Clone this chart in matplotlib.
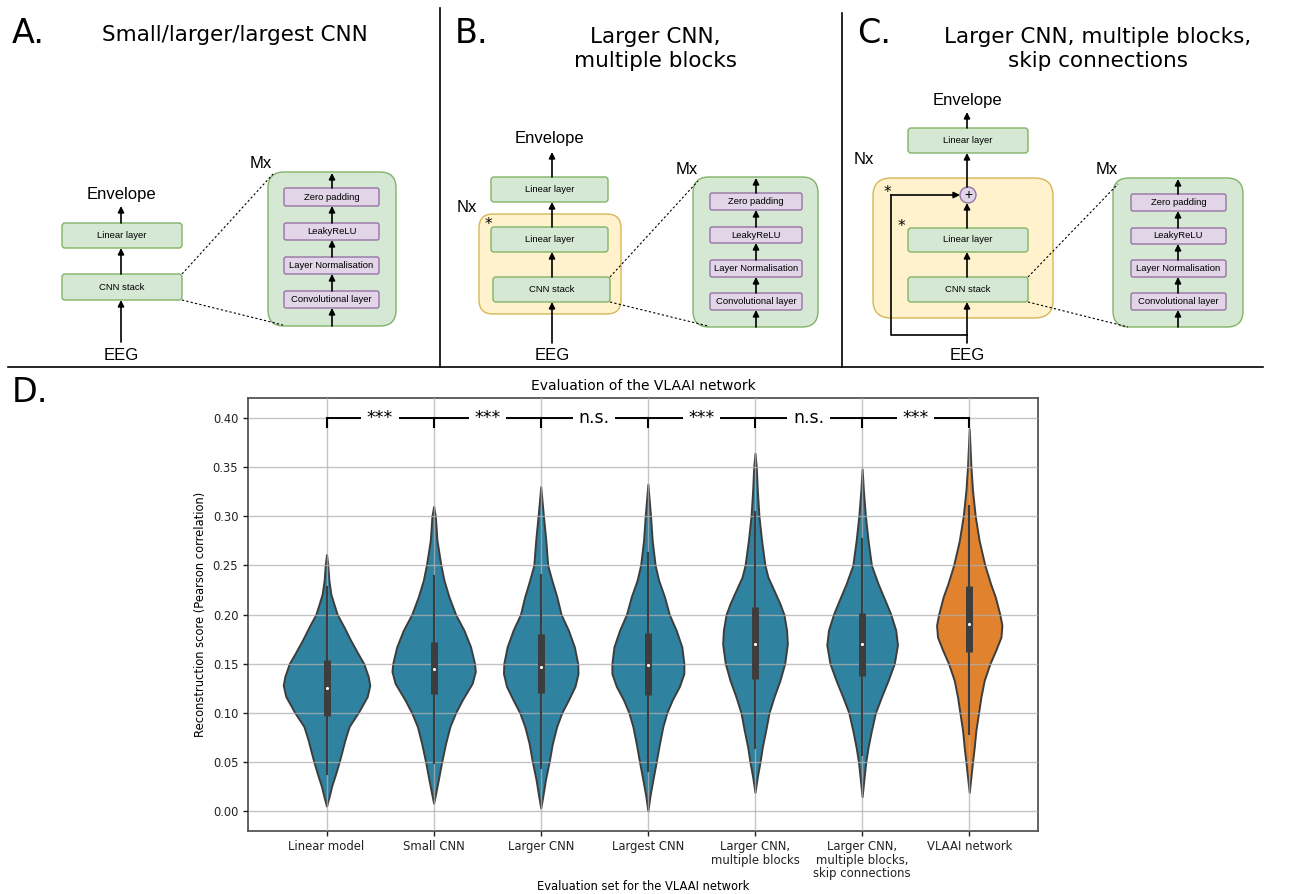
import numpy as np
import matplotlib
matplotlib.use("Agg")
import matplotlib.pyplot as plt
from matplotlib.patches import FancyBboxPatch, Circle

# ---- panel D data ----
categories = ["Linear model", "Small CNN", "Larger CNN", "Largest CNN",
              "Larger CNN,\nmultiple blocks",
              "Larger CNN,\nmultiple blocks,\nskip connections",
              "VLAAI network"]
medians = [0.125, 0.145, 0.147, 0.149, 0.170, 0.170, 0.190]
q1 = [0.097, 0.119, 0.120, 0.118, 0.134, 0.137, 0.162]
q3 = [0.154, 0.172, 0.180, 0.181, 0.208, 0.202, 0.229]
whisk_lo = [0.038, 0.049, 0.044, 0.041, 0.064, 0.057, 0.078]
whisk_hi = [0.228, 0.239, 0.240, 0.263, 0.304, 0.277, 0.310]

# violin outlines: score levels and half-widths (in category units)
prof_y = [
    [0.261, 0.25, 0.235, 0.221, 0.211, 0.20, 0.1875, 0.174, 0.16, 0.15, 0.137, 0.128, 0.1165,
     0.10, 0.086, 0.072, 0.059, 0.05, 0.0386, 0.025, 0.015, 0.005],
    [0.31, 0.30, 0.2756, 0.25, 0.235, 0.218, 0.20, 0.184, 0.167, 0.15, 0.142, 0.13, 0.113,
     0.10, 0.086, 0.069, 0.05, 0.032, 0.018, 0.008],
    [0.33, 0.30, 0.2756, 0.25, 0.235, 0.218, 0.20, 0.184, 0.167, 0.15, 0.14, 0.127, 0.113,
     0.10, 0.086, 0.069, 0.05, 0.032, 0.015, 0.003],
    [0.3325, 0.30, 0.2756, 0.25, 0.235, 0.218, 0.20, 0.184, 0.167, 0.15, 0.14, 0.127, 0.113,
     0.10, 0.086, 0.069, 0.05, 0.032, 0.015, 0.0],
    [0.364, 0.35, 0.326, 0.30, 0.275, 0.25, 0.238, 0.2246, 0.211, 0.20, 0.184, 0.17, 0.15,
     0.133, 0.116, 0.10, 0.082, 0.065, 0.05, 0.035, 0.019],
    [0.348, 0.326, 0.30, 0.275, 0.25, 0.231, 0.211, 0.20, 0.184, 0.169, 0.15, 0.133, 0.116,
     0.10, 0.082, 0.065, 0.05, 0.0315, 0.0146],
    [0.389, 0.35, 0.326, 0.30, 0.275, 0.25, 0.231, 0.218, 0.20, 0.189, 0.177, 0.164, 0.15,
     0.133, 0.116, 0.10, 0.082, 0.065, 0.05, 0.035, 0.019],
]
prof_w = [
    [0, 0.012, 0.022, 0.04, 0.068, 0.10, 0.162, 0.224, 0.295, 0.348, 0.389, 0.404, 0.38,
     0.295, 0.211, 0.171, 0.14, 0.118, 0.087, 0.047, 0.025, 0],
    [0, 0.016, 0.031, 0.068, 0.096, 0.143, 0.205, 0.283, 0.345, 0.382, 0.389, 0.36, 0.267,
     0.205, 0.152, 0.112, 0.075, 0.044, 0.019, 0],
    [0, 0.025, 0.047, 0.065, 0.103, 0.15, 0.19, 0.258, 0.314, 0.345, 0.348, 0.32, 0.258,
     0.196, 0.149, 0.109, 0.078, 0.044, 0.019, 0],
    [0, 0.025, 0.04, 0.068, 0.10, 0.155, 0.20, 0.264, 0.317, 0.336, 0.336, 0.295, 0.227,
     0.177, 0.14, 0.109, 0.078, 0.047, 0.019, 0],
    [0, 0.012, 0.022, 0.037, 0.062, 0.093, 0.121, 0.177, 0.233, 0.27, 0.295, 0.302, 0.277,
     0.233, 0.177, 0.131, 0.10, 0.068, 0.047, 0.022, 0],
    [0, 0.012, 0.031, 0.056, 0.087, 0.15, 0.227, 0.268, 0.314, 0.33, 0.30, 0.243, 0.18,
     0.124, 0.087, 0.056, 0.034, 0.016, 0],
    [0, 0.016, 0.031, 0.056, 0.093, 0.146, 0.20, 0.243, 0.286, 0.305, 0.296, 0.249, 0.193,
     0.14, 0.109, 0.087, 0.062, 0.047, 0.031, 0.016, 0],
]
colors = ["#2f83a0"] * 6 + ["#e0822e"]
sig_labels = ["***", "***", "n.s.", "***", "n.s.", "***"]
sig_y = 0.40

fig = plt.figure(figsize=(12.93, 8.94), dpi=100)

# ---- panels A-C: schematic drawn in pixel coordinates ----
dg = fig.add_axes([0, 0, 1, 1])
dg.set_xlim(0, 1293)
dg.set_ylim(894, 0)
dg.axis("off")

GREEN = ("#d5e8d4", "#82b366")
PURPLE = ("#e1d5e7", "#9673a6")
YELLOW = ("#fff2cc", "#d6b656")
SANS = "Liberation Sans"


def box(x0, y0, x1, y1, style, r=3, label=None, fs=6.8):
    dg.add_patch(FancyBboxPatch((x0, y0), x1 - x0, y1 - y0,
                                boxstyle=f"round,pad=0,rounding_size={r}",
                                fc=style[0], ec=style[1], lw=1))
    if label:
        dg.text((x0 + x1) / 2, (y0 + y1) / 2, label, ha="center", va="center",
                fontsize=fs, family=SANS)


def arrow(x0, y0, x1, y1):
    dg.annotate("", xy=(x1, y1), xytext=(x0, y0),
                arrowprops=dict(arrowstyle="-|>", lw=1.2, color="black",
                                mutation_scale=9, shrinkA=0, shrinkB=0))


def label(x, y, s, fs=12):
    dg.text(x, y, s, ha="center", va="center", fontsize=fs, family=SANS)


def mx_stack(x0, y0, x1, y1, ix0, ix1, rows, ax_x, tag_xy, dash_from, dash_to):
    box(x0, y0, x1, y1, GREEN, r=16)
    names = ["Zero padding", "LeakyReLU", "Layer Normalisation", "Convolutional layer"]
    for (ra, rb), nm in zip(rows, names):
        box(ix0, ra, ix1, rb, PURPLE, r=2, label=nm)
    arrow(ax_x, y1, ax_x, rows[3][1])
    for k in range(3, 0, -1):
        arrow(ax_x, rows[k][0], ax_x, rows[k - 1][1])
    arrow(ax_x, rows[0][0], ax_x, y0 + 1)
    label(*tag_xy, "Mx")
    for (a, b) in zip(dash_from, dash_to):
        dg.plot([a[0], b[0]], [a[1], b[1]], color="black", lw=0.8, ls=(0, (2, 2)))


# panel A
label(121, 194, "Envelope")
arrow(121, 223, 121, 206)
box(62, 223, 182, 248, GREEN, label="Linear layer")
arrow(121, 274, 121, 248)
box(62, 274, 182, 300, GREEN, label="CNN stack")
arrow(121, 342, 121, 300)
label(121, 356, "EEG")
mx_stack(268, 172, 396, 326, 284, 379, [(188, 206), (223, 240), (257, 274), (291, 308)], 332,
         (261, 163), [(182, 274), (182, 300)], [(273, 174), (283, 325)])

# panel B
label(549, 138, "Envelope")
arrow(552, 177, 552, 152)
box(491, 177, 608, 202, GREEN, label="Linear layer")
label(467, 207, "Nx")
box(479, 214, 621, 314, YELLOW, r=14)
dg.text(488, 224, "*", ha="center", va="center", fontsize=11)
arrow(552, 227, 552, 202)
box(491, 227, 608, 252, GREEN, label="Linear layer")
arrow(552, 277, 552, 252)
box(493, 277, 610, 302, GREEN, label="CNN stack")
arrow(552, 343, 552, 302)
label(552, 356, "EEG")
mx_stack(693, 177, 818, 327, 710, 802, [(193, 210), (227, 243), (260, 277), (293, 310)], 756,
         (687, 169), [(610, 277), (610, 302)], [(698, 181), (708, 326)])

# panel C
label(967, 101, "Envelope")
arrow(967, 128, 967, 112)
box(908, 128, 1028, 153, GREEN, label="Linear layer")
label(864, 159, "Nx")
box(873, 178, 1053, 318, YELLOW, r=18)
dg.add_patch(Circle((968, 195), 8, fc=PURPLE[0], ec=PURPLE[1], lw=1))
dg.text(968, 195, "+", ha="center", va="center", fontsize=10, family=SANS)
arrow(967, 187, 967, 153)
dg.text(887, 192, "*", ha="center", va="center", fontsize=11)
dg.text(901, 227, "*", ha="center", va="center", fontsize=11)
arrow(967, 228, 967, 203)
box(908, 228, 1028, 252, GREEN, label="Linear layer")
arrow(967, 277, 967, 252)
box(908, 277, 1028, 302, GREEN, label="CNN stack")
arrow(967, 343, 967, 302)
dg.plot([967, 891, 891], [335, 335, 195], color="black", lw=1.2)
arrow(891, 195, 960, 195)
label(967, 355, "EEG")
mx_stack(1113, 178, 1243, 327, 1131, 1226, [(194, 211), (228, 244), (260, 277), (293, 310)], 1178,
         (1107, 170), [(1028, 277), (1028, 302)], [(1118, 184), (1128, 327)])

# separators, panel letters and titles
dg.plot([8, 1263], [367, 367], color="black", lw=1.2)
dg.plot([440, 440], [8, 367], color="black", lw=1.2)
dg.plot([842, 842], [13, 367], color="black", lw=1.2)
for x, y, s in [(12, 43, "A."), (455, 43, "B."), (857, 43, "C."), (12, 402, "D.")]:
    dg.text(x, y, s, ha="left", va="baseline", fontsize=24)
dg.text(235, 41, "Small/larger/largest CNN", ha="center", va="baseline", fontsize=15.5)
dg.text(655, 43, "Larger CNN,", ha="center", va="baseline", fontsize=15.5)
dg.text(655, 67, "multiple blocks", ha="center", va="baseline", fontsize=15.5)
dg.text(1098, 43, "Larger CNN, multiple blocks,", ha="center", va="baseline", fontsize=15.5)
dg.text(1098, 67, "skip connections", ha="center", va="baseline", fontsize=15.5)

# ---- panel D: violins ----
ax = fig.add_axes([248 / 1293, 1 - 830.7 / 894, 790 / 1293, 432.4 / 894])
for i in range(len(categories)):
    py = np.array(prof_y[i])
    pw = np.array(prof_w[i])
    ax.fill_betweenx(py, i - pw, i + pw, facecolor=colors[i], edgecolor="#3d3d3d",
                     lw=1.4, zorder=1)
    ax.plot([i, i], [whisk_lo[i], whisk_hi[i]], color="#3d3d3d", lw=1.5, zorder=3)
    ax.plot([i, i], [q1[i], q3[i]], color="#3d3d3d", lw=5, solid_capstyle="butt", zorder=3)
    ax.scatter([i], [medians[i]], s=5, color="white", zorder=4, linewidths=0)

for i, lab in enumerate(sig_labels):
    ax.plot([i, i + 1], [sig_y, sig_y], color="black", lw=1.4, zorder=5)
    ax.text(i + 0.5, sig_y, lab, ha="center", va="center", fontsize=12.5, zorder=6,
            bbox=dict(fc="white", ec="none", pad=4))
for i in range(len(categories)):
    ax.plot([i, i], [sig_y, sig_y - 0.009], color="black", lw=1.5, zorder=5)

ax.set_xlim(-0.733, 6.642)
ax.set_ylim(-0.02, 0.42)
ax.set_xticks(range(len(categories)))
ax.set_xticklabels(categories, fontsize=8.4, linespacing=1.05)
ax.set_yticks(np.arange(0, 0.41, 0.05))
ax.set_yticklabels([f"{v:.2f}" for v in np.arange(0, 0.41, 0.05)], fontsize=8.3)
ax.grid(True, color="#b0b0b0", lw=1, alpha=0.75)
ax.set_axisbelow(False)
ax.tick_params(colors="#222222", length=3.5, width=1)
for sp in ax.spines.values():
    sp.set_color("#555555")
    sp.set_linewidth(1.3)
ax.set_title("Evaluation of the VLAAI network", fontsize=10)
ax.set_ylabel("Reconstruction score (Pearson correlation)", fontsize=8.3)
ax.set_xlabel("Evaluation set for the VLAAI network", fontsize=8.3, labelpad=0)

fig.savefig("out.png", dpi=100, facecolor="white")
